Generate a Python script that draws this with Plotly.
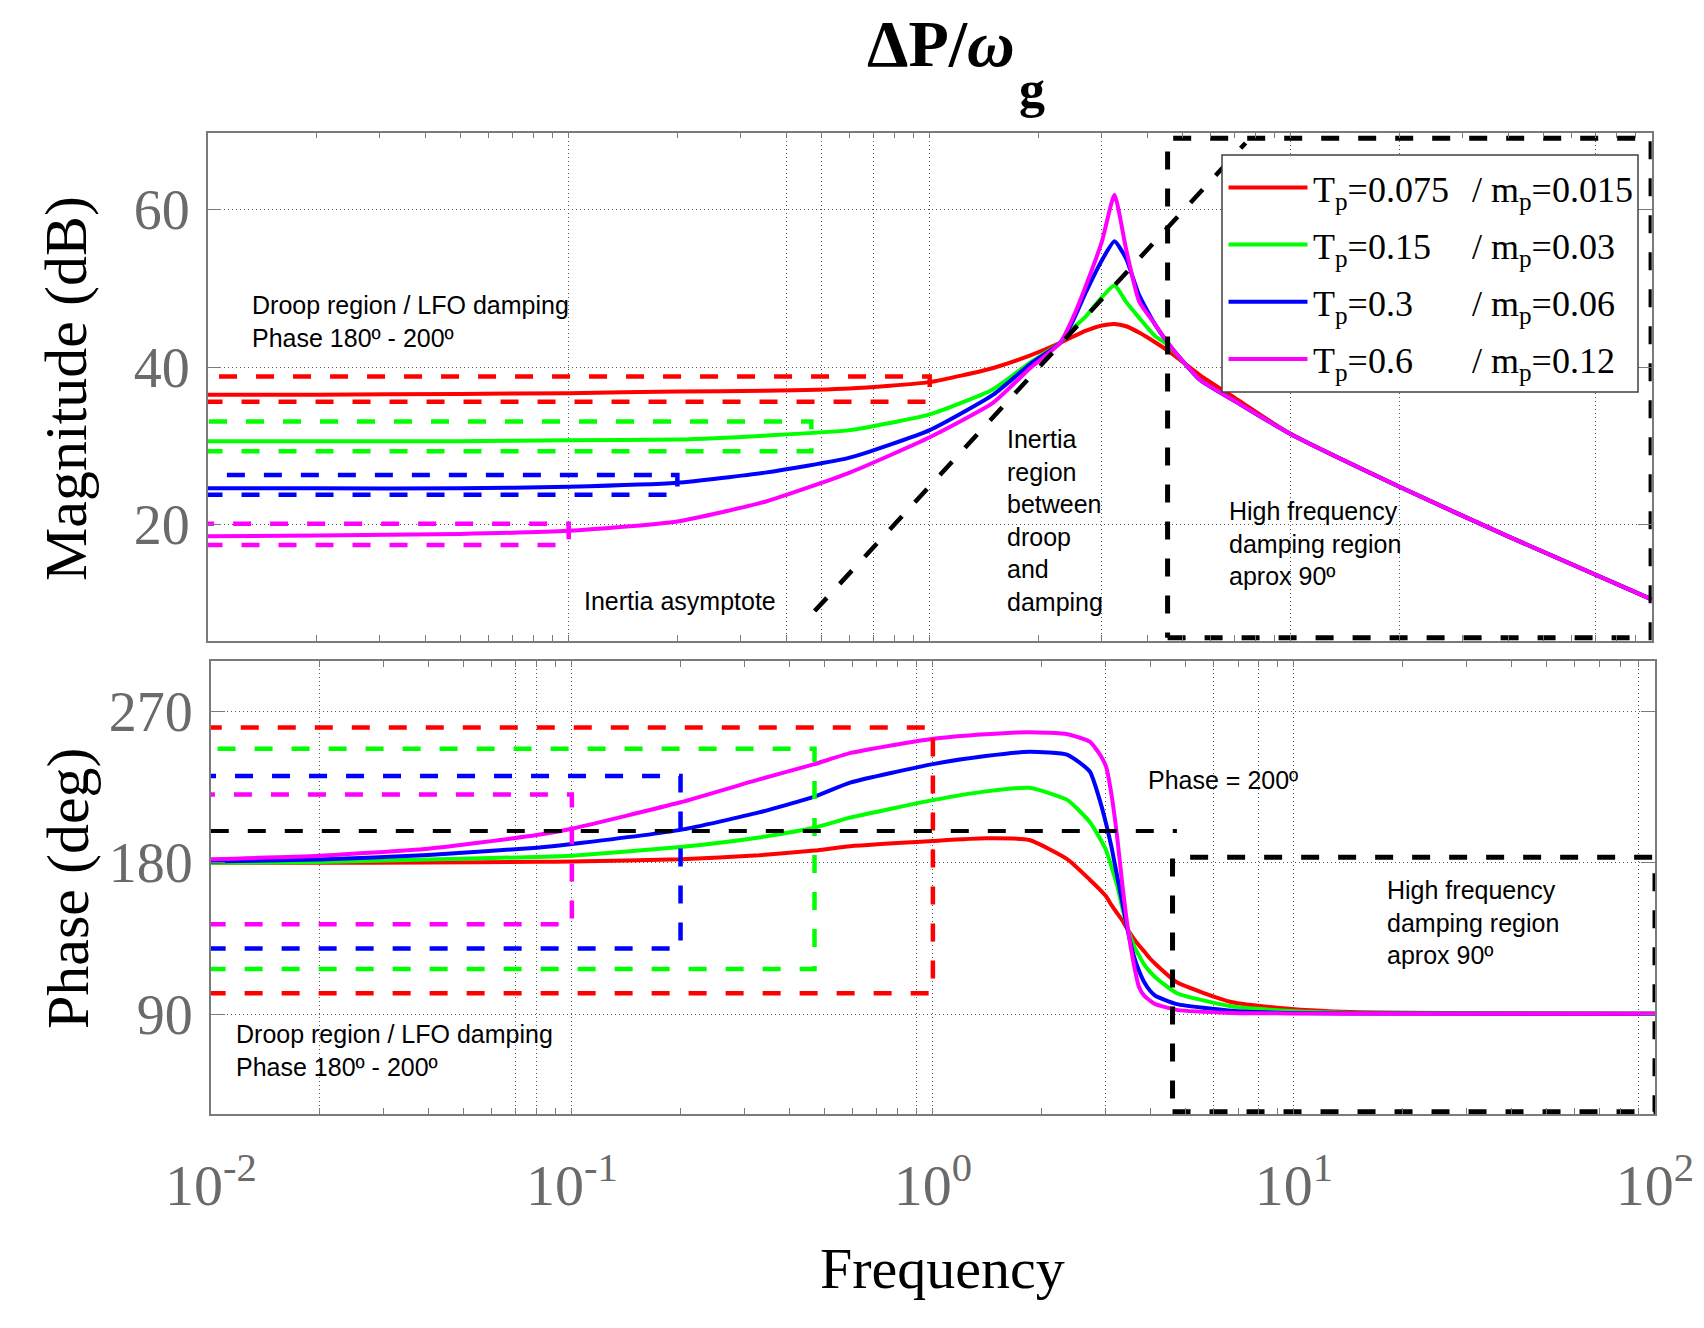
import plotly.graph_objects as go

W, H = 1704, 1328

# %% — series labels / colours
tp_vals = ["0.075", "0.15", "0.3", "0.6"]
mp_vals = ["0.015", "0.03", "0.06", "0.12"]
COLORS = ["#FF0000", "#00FF00", "#0000FF", "#FF00FF"]

# %% — magnitude (dB)
mag_freq = [0.01, 0.02, 0.05, 0.1, 0.2, 0.35, 0.6, 1.0, 1.5, 1.9, 2.3, 2.5, 2.7,
            3.0, 3.25, 3.5, 3.8, 4.2, 4.6, 5.6, 7.0, 10, 20, 40, 100]
mag_red = [36.5, 36.5, 36.6, 36.7, 36.9, 37.0, 37.3, 38.1, 39.9, 41.5, 43.1, 43.9, 44.6,
           45.3, 45.5, 45.2, 44.4, 43.2, 42.0, 39.0, 36.1, 31.5, 24.8, 18.5, 10.5]
mag_green = [30.6, 30.6, 30.6, 30.7, 30.8, 31.3, 32.0, 34.0, 37.2, 40.6, 43.1, 45.0, 46.4,
             48.9, 50.4, 48.3, 46.3, 44.0, 42.7, 38.4, 35.7, 31.5, 24.8, 18.5, 10.5]
mag_blue = [24.6, 24.6, 24.6, 24.8, 25.3, 26.6, 28.5, 32.0, 36.5, 40.4, 43.1, 46.0, 49.4,
            53.6, 56.0, 53.8, 49.2, 45.5, 42.9, 38.4, 35.7, 31.5, 24.8, 18.5, 10.5]
mag_magenta = [18.5, 18.6, 18.8, 19.2, 20.4, 22.9, 26.6, 31.1, 35.5, 39.9, 43.1, 46.4, 50.2,
               56.0, 61.9, 55.0, 48.4, 45.5, 42.9, 38.4, 35.7, 31.5, 24.8, 18.5, 10.5]

# %% — phase (deg)
ph_freq = [0.01, 0.02, 0.04, 0.08, 0.1, 0.2, 0.33, 0.47, 0.59, 1.0, 1.4, 1.85, 2.36, 2.72,
           2.91, 3.02, 3.12, 3.24, 3.35, 3.47, 3.6, 3.72, 3.85, 4.0, 4.13, 4.74, 6.7, 9.5,
           14.4, 100]
ph_red = [180.0, 180.0, 180.2, 180.6, 180.8, 182.1, 184.5, 187.3, 189.9, 193.0, 194.6, 193.6,
          182.1, 170.0, 163.8, 160.0, 155.0, 150.0, 145.6, 140.0, 135.0, 131.0, 127.3, 123.0,
          120.0, 109.0, 97.3, 93.4, 91.3, 90.3]
ph_green = [180.0, 180.5, 182.0, 183.5, 184.2, 189.4, 195.1, 200.9, 206.9, 217.3, 222.5, 224.6,
            217.3, 204.3, 194.0, 187.3, 178.0, 166.4, 153.0, 140.3, 131.0, 125.0, 119.5, 115.0,
            112.0, 102.5, 94.7, 92.1, 90.8, 90.3]
ph_blue = [180.8, 182.0, 184.7, 189.0, 191.2, 199.6, 210.0, 219.4, 227.7, 238.7, 243.5, 246.0,
           244.2, 234.3, 216.0, 203.0, 189.9, 172.0, 156.0, 139.0, 124.7, 116.0, 109.0, 103.8,
           101.0, 96.0, 92.1, 90.8, 90.4, 90.3]
ph_magenta = [182.1, 184.2, 188.4, 196.5, 200.3, 216.0, 229.6, 238.7, 245.2, 253.8, 256.5,
              257.7, 256.5, 252.0, 244.0, 236.9, 221.2, 195.1, 166.4, 140.3, 120.0, 106.4,
              101.0, 98.0, 96.0, 92.6, 90.8, 90.5, 90.3, 90.3]

mag_series = [mag_red, mag_green, mag_blue, mag_magenta]
ph_series = [ph_red, ph_green, ph_blue, ph_magenta]

# %% — droop-region boxes (one per controller)
box_fmin = 0.0098
box_fmax = [1.0, 0.47, 0.2, 0.1]
mag_box_lo = [35.6, 29.3, 23.8, 17.4]
mag_box_hi = [38.8, 33.1, 26.3, 20.1]
ph_box_lo = [102.5, 116.9, 129.1, 143.5]
ph_box_hi = [260.4, 247.8, 231.7, 220.7]

# other guides
inertia_f = [0.48, 7.5]
inertia_db = [9.0, 68.5]
hf_mag_f = [4.56, 99.6]
hf_mag_db = [5.6, 69.1]
hf_ph_f = [4.61, 100]
hf_ph_deg = [32.0, 183.4]
ph200_f = [0.01, 4.74]
ph200_deg = [199.0, 199.0]

# axes ticks / grid
grid_top = [0.01, 0.1, 0.4, 0.5, 0.7, 1, 3, 10, 20, 70, 100]
grid_bot = [0.01, 0.02, 0.07, 0.08, 0.1, 0.9, 1, 3, 6, 8, 10, 90, 100]
decade_text = {0.01: "10<sup>-2</sup>", 0.1: "10<sup>-1</sup>", 1: "10<sup>0</sup>",
               10: "10<sup>1</sup>", 100: "10<sup>2</sup>"}
minor_ticks = [k * 10.0 ** e for e in (-2, -1, 0, 1) for k in range(1, 10)] + [100]
mag_ticks = [20, 40, 60]
ph_ticks = [90, 180, 270]

SERIF = "Liberation Serif, Times New Roman, serif"
SANS = "Liberation Sans, Arial, sans-serif"
AXC = "#7a7a7a"
DASH = "18px,19px"


def px_x(p):
    return p / W


def px_y(p):
    return 1 - p / H


def rect(f0, f1, v0, v1):
    return [f0, f1, f1, f0, f0], [v0, v0, v1, v1, v0]


fig = go.Figure()

# %% — curves
for i in range(4):
    fig.add_trace(go.Scatter(x=mag_freq, y=mag_series[i], mode="lines", xaxis="x", yaxis="y",
                             line=dict(color=COLORS[i], width=4, shape="spline", smoothing=0.5)))
    fig.add_trace(go.Scatter(x=ph_freq, y=ph_series[i], mode="lines", xaxis="x2", yaxis="y2",
                             line=dict(color=COLORS[i], width=4, shape="spline", smoothing=0.5)))

# %% — dashed region boxes
for i in range(4):
    bx, by = rect(box_fmin, box_fmax[i], mag_box_lo[i], mag_box_hi[i])
    fig.add_trace(go.Scatter(x=bx, y=by, mode="lines", xaxis="x", yaxis="y",
                             line=dict(color=COLORS[i], width=4.5, dash=DASH)))
    bx, by = rect(box_fmin, box_fmax[i], ph_box_lo[i], ph_box_hi[i])
    fig.add_trace(go.Scatter(x=bx, y=by, mode="lines", xaxis="x2", yaxis="y2",
                             line=dict(color=COLORS[i], width=4.5, dash=DASH)))

fig.add_trace(go.Scatter(x=inertia_f, y=inertia_db, mode="lines", xaxis="x", yaxis="y",
                         line=dict(color="black", width=4.5, dash=DASH)))
bx, by = rect(hf_mag_f[0], hf_mag_f[1], hf_mag_db[0], hf_mag_db[1])
fig.add_trace(go.Scatter(x=bx, y=by, mode="lines", xaxis="x", yaxis="y",
                         line=dict(color="black", width=5, dash=DASH)))
bx, by = rect(hf_ph_f[0], hf_ph_f[1], hf_ph_deg[0], hf_ph_deg[1])
fig.add_trace(go.Scatter(x=bx, y=by, mode="lines", xaxis="x2", yaxis="y2",
                         line=dict(color="black", width=5, dash=DASH)))
fig.add_trace(go.Scatter(x=ph200_f, y=ph200_deg, mode="lines", xaxis="x2", yaxis="y2",
                         line=dict(color="black", width=4, dash=DASH)))

# %% — axes
common_x = dict(type="log", range=[-2, 2], showline=True, linecolor=AXC, linewidth=1.5,
                mirror="ticks", ticks="inside", ticklen=6, tickcolor=AXC, tickwidth=1.2,
                showgrid=True, gridcolor="#555555", gridwidth=1, griddash="1px,3px",
                zeroline=False, automargin=False,
                minor=dict(tickmode="array", tickvals=minor_ticks, ticks="inside", ticklen=6,
                           tickcolor=AXC, tickwidth=1.2, showgrid=False))
common_y = dict(showline=True, linecolor=AXC, linewidth=1.5, mirror="ticks", ticks="inside",
                ticklen=14, tickcolor=AXC, tickwidth=1.2, showgrid=True, gridcolor="#555555",
                gridwidth=1, griddash="1px,3px", zeroline=False, automargin=False,
                tickfont=dict(family=SERIF, size=56, color="#6a6a6a"), ticklabelstandoff=5)

fig.update_layout(
    width=W, height=H,
    margin=dict(l=0, r=0, t=0, b=0, autoexpand=False),
    paper_bgcolor="white", plot_bgcolor="white",
    showlegend=False,
    xaxis=dict(domain=[px_x(207.7), px_x(1651.7)], anchor="y", tickmode="array",
               tickvals=grid_top, showticklabels=False, **common_x),
    yaxis=dict(domain=[px_y(641), px_y(132.7)], anchor="x", range=[5.2, 69.8],
               tickmode="array", tickvals=mag_ticks, **common_y),
    xaxis2=dict(domain=[px_x(210.8), px_x(1655)], anchor="y2", tickmode="array",
                tickvals=grid_bot, ticktext=[decade_text.get(v, "") for v in grid_bot],
                tickfont=dict(family=SERIF, size=58, color="#6a6a6a"),
                ticklabelstandoff=20, **common_x),
    yaxis2=dict(domain=[px_y(1114), px_y(661)], anchor="x2", range=[30.7, 300],
                tickmode="array", tickvals=ph_ticks, **common_y),
)

# %% — legend (drawn by hand so the sample lines match the original length)
leg_x0, leg_x1, leg_y0, leg_y1 = 1222, 1638, 155, 392
leg_rows = [187.5, 244.6, 301.8, 358.9]
shapes = [dict(type="rect", xref="paper", yref="paper", x0=px_x(leg_x0), x1=px_x(leg_x1),
               y0=px_y(leg_y1), y1=px_y(leg_y0), fillcolor="white",
               line=dict(color="#404040", width=1.5), layer="above")]
annotations = []
for i, yrow in enumerate(leg_rows):
    shapes.append(dict(type="line", xref="paper", yref="paper", x0=px_x(1228.5), x1=px_x(1307.5),
                       y0=px_y(yrow), y1=px_y(yrow), line=dict(color=COLORS[i], width=4),
                       layer="above"))
    annotations.append(dict(x=px_x(1311), y=px_y(yrow + 5), xref="paper", yref="paper",
                            xanchor="left", yanchor="middle", showarrow=False,
                            text=f"T<sub>p</sub>={tp_vals[i]}",
                            font=dict(family=SERIF, size=36, color="black")))
    annotations.append(dict(x=px_x(1470), y=px_y(yrow + 5), xref="paper", yref="paper",
                            xanchor="left", yanchor="middle", showarrow=False,
                            text=f"/ m<sub>p</sub>={mp_vals[i]}",
                            font=dict(family=SERIF, size=36, color="black")))


def note(text, x, y, size=25):
    annotations.append(dict(x=px_x(x), y=px_y(y), xref="paper", yref="paper", xanchor="left",
                            yanchor="middle", align="left", showarrow=False, text=text,
                            font=dict(family=SANS, size=size, color="black")))


note("Droop region / LFO damping<br>Phase 180º - 200º", 250, 321)
note("Inertia asymptote", 582, 601)
note("Inertia<br>region<br>between<br>droop<br>and<br>damping", 1005, 520)
note("High frequency<br>damping region<br>aprox 90º", 1227, 543)
note("Phase = 200º", 1146, 780)
note("High frequency<br>damping region<br>aprox 90º", 1385, 922)
note("Droop region / LFO damping<br>Phase 180º - 200º", 234, 1050)

# titles
annotations.append(dict(x=px_x(941), y=px_y(44), xref="paper", yref="paper", showarrow=False,
                        text="<b>ΔP/<i>ω</i></b>", xanchor="center", yanchor="middle",
                        font=dict(family=SERIF, size=66, color="black")))
annotations.append(dict(x=px_x(1017), y=px_y(90), xref="paper", yref="paper", showarrow=False,
                        text="<b>g</b>", xanchor="left", yanchor="middle",
                        font=dict(family=SERIF, size=52, color="black")))
annotations.append(dict(x=px_x(942), y=px_y(1268), xref="paper", yref="paper", showarrow=False,
                        text="Frequency", xanchor="center", yanchor="middle",
                        font=dict(family=SERIF, size=58, color="black")))
annotations.append(dict(x=px_x(66), y=px_y(389), xref="paper", yref="paper", showarrow=False,
                        text="Magnitude (dB)", textangle=-90, xanchor="center", yanchor="middle",
                        font=dict(family=SERIF, size=60, color="black")))
annotations.append(dict(x=px_x(68), y=px_y(888), xref="paper", yref="paper", showarrow=False,
                        text="Phase (deg)", textangle=-90, xanchor="center", yanchor="middle",
                        font=dict(family=SERIF, size=60, color="black")))

fig.update_layout(shapes=shapes, annotations=annotations)

# the page's default 8px body margin would shift the whole figure
fig.write_html("out.html", config={"displayModeBar": False},
               post_script="document.body.style.margin='0';")
